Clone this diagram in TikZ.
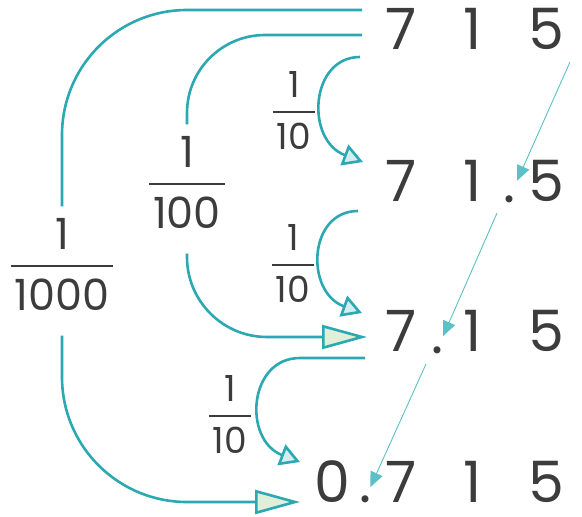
\documentclass[tikz,border=0pt]{standalone}
\usepackage{fontspec}
\setmainfont{Poppins}
\usepackage{tikz}
\usetikzlibrary{arrows.meta}
\definecolor{tuerkis}{HTML}{2BA8B1}
\definecolor{hellblau}{HTML}{D3EDF0}
\definecolor{hellgruen}{HTML}{E1EFD9}
\definecolor{duenn}{HTML}{5CC0C7}
\definecolor{schrift}{HTML}{3C3C3C}
\setlength{\arrayrulewidth}{2.8pt}
\newcommand{\bruch}[2]{\begin{tabular}{@{\hspace{4pt}}c@{\hspace{4pt}}}#1\\[2pt]\hline\rule{0pt}{1.0em}#2\end{tabular}}
\tikzset{
  ziffer/.style={text=schrift, inner sep=0pt, font=\fontsize{57}{57}\selectfont},
  bruchlabel/.style={text=schrift, inner xsep=0pt, inner ysep=12pt, font=\fontsize{#1}{#1}\selectfont},
  bruchlabel/.default=43,
  bogen/.style={draw=tuerkis, line width=2.6pt},
  spitzeblau/.style={-{Triangle[length=20pt,width=22pt,fill=hellblau]}},
  spitzegruen/.style={-{Triangle[length=45pt,width=24pt,fill=hellgruen]}},
  hinweis/.style={draw=duenn, line width=0.9pt, -{Triangle[length=15pt,width=13pt]}},
}

\begin{document}
\begin{tikzpicture}[x=1pt, y=-1pt]
  \useasboundingbox (0,0) rectangle (582,517);
  % Zahlen
  \node[ziffer] (r1a) at (401,29) {7};
  \node[ziffer] (r1b) at (473,29) {1};
  \node[ziffer] (r1c) at (546,29) {5};
  \node[ziffer] (r2a) at (401,181) {7};
  \node[ziffer] (r2b) at (473,181) {1};
  \node[ziffer] (r2p) at (509,199) {.};
  \node[ziffer] (r2c) at (546,181) {5};
  \node[ziffer] (r3a) at (401,331) {7};
  \node[ziffer] (r3p) at (437,350) {.};
  \node[ziffer] (r3b) at (473,331) {1};
  \node[ziffer] (r3c) at (546,331) {5};
  \node[ziffer] (r40) at (332,482) {0};
  \node[ziffer] (r4p) at (365,499) {.};
  \node[ziffer] (r4a) at (401,482) {7};
  \node[ziffer] (r4b) at (473,482) {1};
  \node[ziffer] (r4c) at (546,482) {5};
  % Brueche
  \node[bruchlabel=36] (f10a) at (294,116) {\bruch{1}{10}};
  \node[bruchlabel=36] (f10b) at (293,269) {\bruch{1}{10}};
  \node[bruchlabel=36] (f10c) at (230,420) {\bruch{1}{10}};
  \node[bruchlabel] (f100) at (187,189) {\bruch{1}{100}};
  \node[bruchlabel] (f1000) at (62,271) {\bruch{1}{1000}};
  % Anfangs- und Endpunkte
  \coordinate (s1000) at (362,10);
  \coordinate (s100) at (362,35);
  \coordinate (s10a) at (360,57);
  \coordinate (s10b) at (358,211);
  \coordinate (s10c) at (365,358);
  \coordinate (z10a) at (363,162);
  \coordinate (z10b) at (362,313);
  \coordinate (z10c) at (300,462);
  \coordinate (z100) at (367,337);
  \coordinate (z1000) at (300,502);
  \coordinate (h1) at (570,62);
  \coordinate (h2) at (497,213);
  \coordinate (h3) at (426,364);
  % Boegen
  \draw[bogen, rounded corners=125pt] (s1000) -| (f1000);
  \draw[bogen, rounded corners=125pt, spitzegruen] (f1000) |- (z1000);
  \draw[bogen, rounded corners=78pt] (s100) -| (f100);
  \draw[bogen, rounded corners=80pt, spitzegruen] (f100) |- (z100);
  \draw[bogen, spitzeblau] (s10a) .. controls (310,57) and (305,140) .. (z10a);
  \draw[bogen, spitzeblau] (s10b) .. controls (308,211) and (305,292) .. (z10b);
  \draw[bogen, spitzeblau] (s10c) -- (300,358) .. controls (248,358) and (243,440) .. (z10c);
  % Komma wandert
  \draw[hinweis, shorten >=16pt] (h1) -- (r2p);
  \draw[hinweis, shorten >=11pt] (h2) -- (r3p);
  \draw[hinweis, shorten >=9pt] (h3) -- (r4p);
\end{tikzpicture}
\end{document}
